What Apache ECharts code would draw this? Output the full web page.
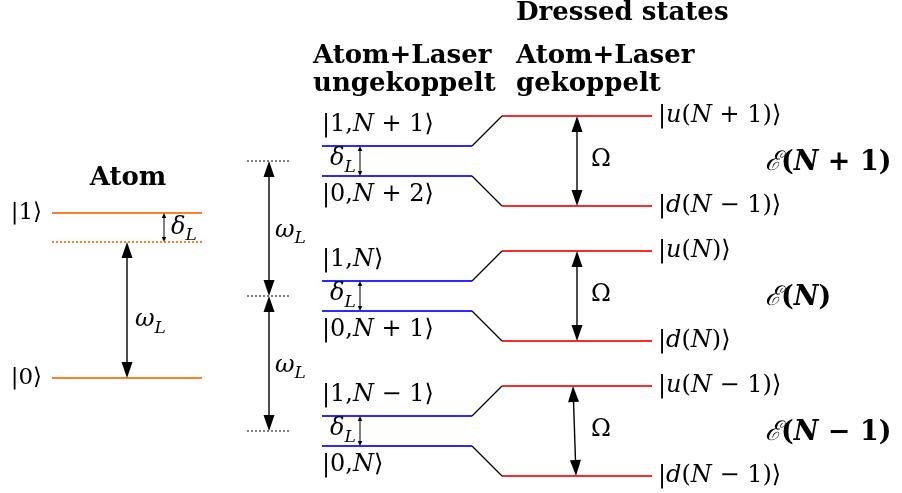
<!DOCTYPE html>
<html><head><meta charset="utf-8">
<script src="https://cdn.jsdelivr.net/npm/echarts@6/dist/echarts.min.js"></script>
<style>html,body{margin:0;padding:0;background:#fff}#c{width:902px;height:493px}</style>
</head><body><div id="c"></div>
<script>
// ---------------- data (energies in diagram units, larger = higher) ----------------
const manifoldNames = ['N+1', 'N', 'N−1'];
const manifoldRef   = [332, 197, 62];     // dotted reference energies (left ladder)
const bareUpper     = [347, 212, 77];     // |1,n⟩ uncoupled
const bareLower     = [317, 182, 47];     // |0,n+1⟩ uncoupled
const dressedUpper  = [377, 242, 107];    // |u⟩ dressed
const dressedLower  = [287, 152, 17];     // |d⟩ dressed
const bareUpperLabels    = ['|1,N + 1⟩', '|1,N⟩', '|1,N − 1⟩'];
const bareLowerLabels    = ['|0,N + 2⟩', '|0,N + 1⟩', '|0,N⟩'];
const dressedUpperLabels = ['|u(N + 1)⟩', '|u(N)⟩', '|u(N − 1)⟩'];
const dressedLowerLabels = ['|d(N − 1)⟩', '|d(N)⟩', '|d(N − 1)⟩'];
const manifoldLabels     = ['(N + 1)', '(N)', '(N − 1)'];
const atomLevels      = [280, 115];       // |1⟩, |0⟩
const atomLevelLabels = ['|1⟩', '|0⟩'];
const laserLevel      = 251;              // |0⟩ + ωL (dotted)

// ---------------- layout ----------------
const X = {
  atomL: 52, atomR: 202, atomArrow: 127, atomDelta: 164, atomLabelR: 42,
  refL: 247, refR: 291, refArrow: 269,
  bareL: 322, bareR: 472, deltaArrow: 360,
  dressL: 502, dressR: 652, omegaArrow: 577,
  stateLabel: 658, manifoldLabel: 765
};
const C = { orange: '#ff7f2a', blue: '#0000ff', blueLine: '#2a2aff', red: '#ff0000', redLine: '#ff2a2a', black: '#000' };
const MATH = 'DejaVu Serif';
const HEAD = 'DejaVu Serif';

const mk = (size, extra) => Object.assign({ fontFamily: MATH, fontSize: size, lineHeight: 34, color: '#111' }, extra || {});
const mathRich = {
  r:  mk(24),
  i:  mk(24, { fontStyle: 'italic' }),
  s:  mk(17, { fontStyle: 'italic', lineHeight: 13, verticalAlign: 'bottom' }),
  sc: mk(27, { fontStyle: 'italic' }),
  b:  mk(27, { fontWeight: 'bold' }),
  bi: mk(27, { fontWeight: 'bold', fontStyle: 'italic' })
};
const atomRich = { r: mk(23), i: mk(23, { fontStyle: 'italic' }) };
function mathText(s, bold) {
  let out = '';
  for (const ch of s) {
    if (/[A-Za-z]/.test(ch)) out += '{' + (bold ? 'bi' : 'i') + '|' + ch + '}';
    else out += '{' + (bold ? 'b' : 'r') + '|' + ch + '}';
  }
  return out;
}
const sub = (base, idx) => '{i|' + base + '}{s|' + idx + '}';

// ---------------- level segments ----------------
const seg = (x1, y, x2, y2) => [x1, y, x2, y2 === undefined ? y : y2];
const atomSolid = atomLevels.map(e => seg(X.atomL, e, X.atomR));
const atomDotted = [seg(X.atomL, laserLevel, X.atomR)];
const refDotted = manifoldRef.map(e => seg(X.refL, e, X.refR));
const blueSegs = bareUpper.map(e => seg(X.bareL, e, X.bareR)).concat(bareLower.map(e => seg(X.bareL, e, X.bareR)));
const redSegs = dressedUpper.map(e => seg(X.dressL, e, X.dressR)).concat(dressedLower.map(e => seg(X.dressL, e, X.dressR)));
const diagSegs = bareUpper.map((e, i) => seg(X.bareR, e, X.dressL, dressedUpper[i]))
  .concat(bareLower.map((e, i) => seg(X.bareR, e, X.dressL, dressedLower[i])));

// arrows: [x1, y1, x2, y2, small?]
const arrows = [
  [X.atomArrow, laserLevel, X.atomArrow, atomLevels[1], 0],
  [X.atomDelta, atomLevels[0], X.atomDelta, laserLevel, 1],
  [X.refArrow, manifoldRef[0], X.refArrow, manifoldRef[1], 0],
  [X.refArrow, manifoldRef[1], X.refArrow, manifoldRef[2], 0]
];
bareUpper.forEach((e, i) => arrows.push([X.deltaArrow, e, X.deltaArrow, bareLower[i], 1]));
dressedUpper.forEach((e, i) => arrows.push([X.omegaArrow + (i === 2 ? -4 : 0), e, X.omegaArrow - (i === 2 ? 1 : 0), dressedLower[i], 0]));

// ---------------- text labels ----------------
const labels = [];
const L = (x, y, text, align, rich) => labels.push({ x, y, text, align, rich });
const headRich = (color) => ({ h: { fontFamily: HEAD, fontSize: 26, fontWeight: 'bold', color, lineHeight: 30 } });
L(128, 315, '{h|Atom}', 'center', headRich(C.orange));
L(516, 480, '{h|Dressed states}', 'left', headRich(C.red));
L(313, 437, '{h|Atom+Laser}', 'left', headRich(C.blue));
L(313, 409, '{h|ungekoppelt}', 'left', headRich(C.blue));
L(516, 437, '{h|Atom+Laser}', 'left', headRich(C.red));
L(516, 409, '{h|gekoppelt}', 'left', headRich(C.red));
atomLevels.forEach((e, i) => L(X.atomLabelR, e, mathText(atomLevelLabels[i]), 'right', atomRich));
L(X.atomArrow + 8, (laserLevel + atomLevels[1]) / 2 - 10, sub('ω', 'L'), 'left', mathRich);
L(X.atomDelta + 7, (atomLevels[0] + laserLevel) / 2, sub('δ', 'L'), 'left', mathRich);
for (let i = 0; i < 2; i++) L(X.refArrow + 6, (manifoldRef[i] + manifoldRef[i + 1]) / 2 - 2, sub('ω', 'L'), 'left', mathRich);
manifoldNames.forEach((n, i) => {
  L(X.bareL, bareUpper[i] + 21, mathText(bareUpperLabels[i]), 'left', mathRich);
  L(X.bareL, bareLower[i] - 19, mathText(bareLowerLabels[i]), 'left', mathRich);
  L(X.bareL + 8, manifoldRef[i] + 2, sub('δ', 'L'), 'left', mathRich);
  L(X.omegaArrow + 14, manifoldRef[i] + 1, '{r|Ω}', 'left', mathRich);
  L(X.stateLabel, dressedUpper[i], mathText(dressedUpperLabels[i]), 'left', mathRich);
  L(X.stateLabel, dressedLower[i], mathText(dressedLowerLabels[i]), 'left', mathRich);
  L(X.manifoldLabel, manifoldRef[i] - 2, '{sc|ℰ}' + mathText(manifoldLabels[i], true), 'left', mathRich);
});

// ---------------- series helpers ----------------
function segSeries(data, style) {
  return {
    type: 'custom', coordinateSystem: 'cartesian2d', silent: true, animation: false,
    encode: { x: [0, 2], y: [1, 3] }, data,
    renderItem(params, api) {
      const p1 = api.coord([api.value(0), api.value(1)]);
      const p2 = api.coord([api.value(2), api.value(3)]);
      return { type: 'line', shape: { x1: p1[0], y1: p1[1], x2: p2[0], y2: p2[1] }, style };
    }
  };
}
const arrowSeries = {
  type: 'custom', coordinateSystem: 'cartesian2d', silent: true, animation: false,
  encode: { x: [0, 2], y: [1, 3] }, data: arrows,
  renderItem(params, api) {
    const p1 = api.coord([api.value(0), api.value(1)]);
    const p2 = api.coord([api.value(2), api.value(3)]);
    const small = api.value(4) === 1;
    const len = small ? 5 : 16, w = small ? 4.5 : 11;
    const dx = p2[0] - p1[0], dy = p2[1] - p1[1], d = Math.hypot(dx, dy);
    const ux = dx / d, uy = dy / d, nx = -uy, ny = ux;
    const head = (tip, s) => {
      const bx = tip[0] - s * ux * len, by = tip[1] - s * uy * len;
      return { type: 'polygon', shape: { points: [[tip[0], tip[1]], [bx + nx * w / 2, by + ny * w / 2], [bx - nx * w / 2, by - ny * w / 2]] }, style: { fill: '#000' } };
    };
    return {
      type: 'group', children: [
        { type: 'line', shape: { x1: p1[0] + ux * len * 0.8, y1: p1[1] + uy * len * 0.8, x2: p2[0] - ux * len * 0.8, y2: p2[1] - uy * len * 0.8 }, style: { stroke: '#000', lineWidth: small ? 1 : 1.4 } },
        head(p1, -1), head(p2, 1)
      ]
    };
  }
};
const textSeries = {
  type: 'custom', coordinateSystem: 'cartesian2d', silent: true, animation: false,
  data: labels.map(l => [l.x, l.y]),
  renderItem(params, api) {
    const lb = labels[params.dataIndex];
    const p = api.coord([api.value(0), api.value(1)]);
    return { type: 'text', x: p[0], y: p[1], style: { text: lb.text, rich: lb.rich, align: lb.align, verticalAlign: 'middle' } };
  }
};

const chart = echarts.init(document.getElementById('c'), null, { renderer: 'canvas' });
chart.setOption({
  animation: false,
  backgroundColor: '#fff',
  grid: { left: 0, right: 0, top: 0, bottom: 0 },
  xAxis: { type: 'value', min: 0, max: 902, show: false },
  yAxis: { type: 'value', min: 0, max: 493, show: false },
  series: [
    segSeries(atomSolid, { stroke: C.orange, lineWidth: 2 }),
    segSeries(atomDotted, { stroke: C.orange, lineWidth: 2, lineDash: [2, 2] }),
    segSeries(refDotted, { stroke: '#000', lineWidth: 1, lineDash: [2, 2] }),
    segSeries(blueSegs, { stroke: C.blueLine, lineWidth: 2 }),
    segSeries(redSegs, { stroke: C.redLine, lineWidth: 2 }),
    segSeries(diagSegs, { stroke: '#000', lineWidth: 1.3 }),
    arrowSeries,
    textSeries
  ]
});
</script></body></html>
